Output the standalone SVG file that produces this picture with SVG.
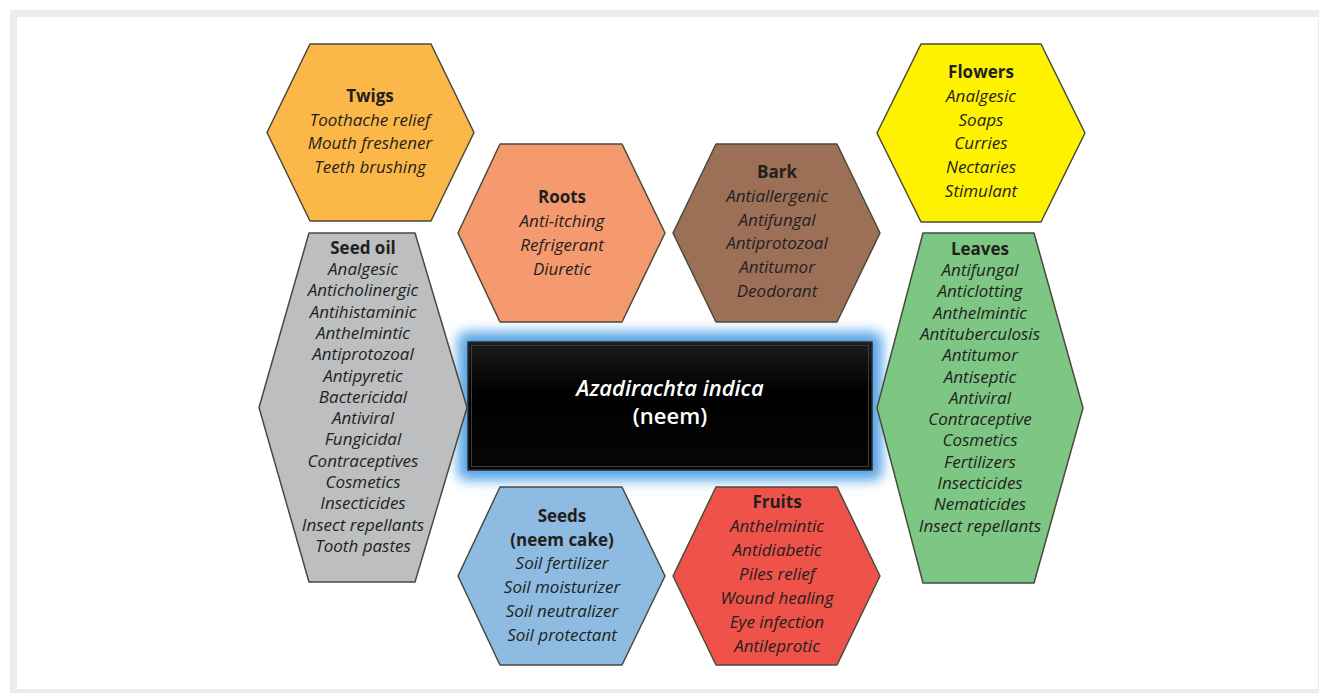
<svg xmlns="http://www.w3.org/2000/svg" width="1319" height="693" viewBox="0 0 1319 693">
<defs>
<style>
.hex{stroke:#4a4a3c;stroke-width:1.5;stroke-linejoin:round}
.t{font-family:"Open Sans","Noto Sans","Liberation Sans",sans-serif;font-size:17px;fill:#231f20;text-anchor:middle}
.b{font-weight:bold;font-style:normal}
.i{font-style:italic}
.c{font-family:"Open Sans","Noto Sans","Liberation Sans",sans-serif;font-size:22px;fill:#ffffff;text-anchor:middle;font-weight:600}
</style>
<filter id="glow" x="-20%" y="-40%" width="140%" height="180%">
<feGaussianBlur stdDeviation="6"/>
</filter>
<linearGradient id="blk" x1="0" y1="0" x2="0" y2="1">
<stop offset="0" stop-color="#1c1c1c"/>
<stop offset="0.4" stop-color="#000000"/>
<stop offset="1" stop-color="#060606"/>
</linearGradient>
</defs>
<rect x="0" y="0" width="1319" height="693" fill="#ffffff"/>
<rect x="10" y="10" width="1309" height="683" fill="#ececec"/>
<rect x="17" y="17" width="1301" height="672" fill="#ffffff"/>
<g id="connectors"></g>

<g id="center">
<rect x="456" y="330" width="428" height="152" rx="10" fill="#9fcdf2" filter="url(#glow)"/>
<rect x="462" y="336" width="416" height="140" rx="6" fill="#4f9fe3" filter="url(#glow)"/>
<rect x="468" y="342" width="404" height="128" fill="url(#blk)" stroke="#2e2e2e" stroke-width="1.5"/>
<rect x="471.5" y="345.5" width="397" height="121" fill="none" stroke="#3c3c3c" stroke-width="1"/>
<text class="c" x="670" y="396" font-style="italic">Azadirachta indica</text>
<text class="c" x="670" y="424" font-weight="bold">(neem)</text>
</g>

<g id="twigs">
<polygon class="hex" fill="#fbb848" points="310,44 431,44 474,132.5 431,221 310,221 267,132.5"/>
<text class="t"><tspan class="b" x="370" y="102">Twigs</tspan><tspan class="i" x="370" y="125.5">Toothache relief</tspan><tspan class="i" x="370" y="149">Mouth freshener</tspan><tspan class="i" x="370" y="173">Teeth brushing</tspan></text>
</g>

<g id="flowers">
<polygon class="hex" fill="#fff200" points="921,44 1041,44 1085,133 1041,222 921,222 877,133"/>
<text class="t"><tspan class="b" x="981" y="78">Flowers</tspan><tspan class="i" x="981" y="101.7">Analgesic</tspan><tspan class="i" x="981" y="125.5">Soaps</tspan><tspan class="i" x="981" y="149.2">Curries</tspan><tspan class="i" x="981" y="173">Nectaries</tspan><tspan class="i" x="981" y="196.7">Stimulant</tspan></text>
</g>

<g id="roots">
<polygon class="hex" fill="#f59a6f" points="500,144 622,144 665,233 622,322 500,322 458,233"/>
<text class="t"><tspan class="b" x="562" y="203">Roots</tspan><tspan class="i" x="562" y="227">Anti-itching</tspan><tspan class="i" x="562" y="251">Refrigerant</tspan><tspan class="i" x="562" y="274.5">Diuretic</tspan></text>
</g>

<g id="bark">
<polygon class="hex" fill="#9c7056" points="716,144 837,144 880,233 837,322 716,322 673,233"/>
<text class="t"><tspan class="b" x="777" y="178">Bark</tspan><tspan class="i" x="777" y="201.7">Antiallergenic</tspan><tspan class="i" x="777" y="225.5">Antifungal</tspan><tspan class="i" x="777" y="249.3">Antiprotozoal</tspan><tspan class="i" x="777" y="273">Antitumor</tspan><tspan class="i" x="777" y="297">Deodorant</tspan></text>
</g>

<g id="seed-oil">
<polygon class="hex" fill="#bcbec0" points="309,233 415,233 467,407.5 415,582 309,582 259,407.5"/>
<text class="t"><tspan class="b" x="363" y="254">Seed oil</tspan><tspan class="i" x="363" y="275">Analgesic</tspan><tspan class="i" x="363" y="296.3">Anticholinergic</tspan><tspan class="i" x="363" y="317.6">Antihistaminic</tspan><tspan class="i" x="363" y="338.9">Anthelmintic</tspan><tspan class="i" x="363" y="360.2">Antiprotozoal</tspan><tspan class="i" x="363" y="381.5">Antipyretic</tspan><tspan class="i" x="363" y="402.8">Bactericidal</tspan><tspan class="i" x="363" y="424.1">Antiviral</tspan><tspan class="i" x="363" y="445.4">Fungicidal</tspan><tspan class="i" x="363" y="466.7">Contraceptives</tspan><tspan class="i" x="363" y="488">Cosmetics</tspan><tspan class="i" x="363" y="509.3">Insecticides</tspan><tspan class="i" x="363" y="530.6">Insect repellants</tspan><tspan class="i" x="363" y="551.9">Tooth pastes</tspan></text>
</g>

<g id="leaves">
<polygon class="hex" fill="#7dc683" points="923,233 1034,233 1083,408 1034,583 923,583 877,408"/>
<text class="t"><tspan class="b" x="980" y="255">Leaves</tspan><tspan class="i" x="980" y="276">Antifungal</tspan><tspan class="i" x="980" y="297.3">Anticlotting</tspan><tspan class="i" x="980" y="318.6">Anthelmintic</tspan><tspan class="i" x="980" y="339.9">Antituberculosis</tspan><tspan class="i" x="980" y="361.2">Antitumor</tspan><tspan class="i" x="980" y="382.5">Antiseptic</tspan><tspan class="i" x="980" y="403.8">Antiviral</tspan><tspan class="i" x="980" y="425.1">Contraceptive</tspan><tspan class="i" x="980" y="446.4">Cosmetics</tspan><tspan class="i" x="980" y="467.7">Fertilizers</tspan><tspan class="i" x="980" y="489">Insecticides</tspan><tspan class="i" x="980" y="510.3">Nematicides</tspan><tspan class="i" x="980" y="531.6">Insect repellants</tspan></text>
</g>

<g id="seeds">
<polygon class="hex" fill="#8dbbe1" points="500,487 622,487 665,576 622,665 500,665 458,576"/>
<text class="t"><tspan class="b" x="562" y="521.7">Seeds</tspan><tspan class="b" x="562" y="545.5">(neem cake)</tspan><tspan class="i" x="562" y="569.3">Soil fertilizer</tspan><tspan class="i" x="562" y="593">Soil moisturizer</tspan><tspan class="i" x="562" y="617">Soil neutralizer</tspan><tspan class="i" x="562" y="641">Soil protectant</tspan></text>
</g>

<g id="fruits">
<polygon class="hex" fill="#ef5248" points="716,487 837,487 880,576 837,665 716,665 673,576"/>
<text class="t"><tspan class="b" x="777" y="508.3">Fruits</tspan><tspan class="i" x="777" y="532">Anthelmintic</tspan><tspan class="i" x="777" y="556">Antidiabetic</tspan><tspan class="i" x="777" y="580">Piles relief</tspan><tspan class="i" x="777" y="604">Wound healing</tspan><tspan class="i" x="777" y="627.7">Eye infection</tspan><tspan class="i" x="777" y="651.5">Antileprotic</tspan></text>
</g>
</svg>
